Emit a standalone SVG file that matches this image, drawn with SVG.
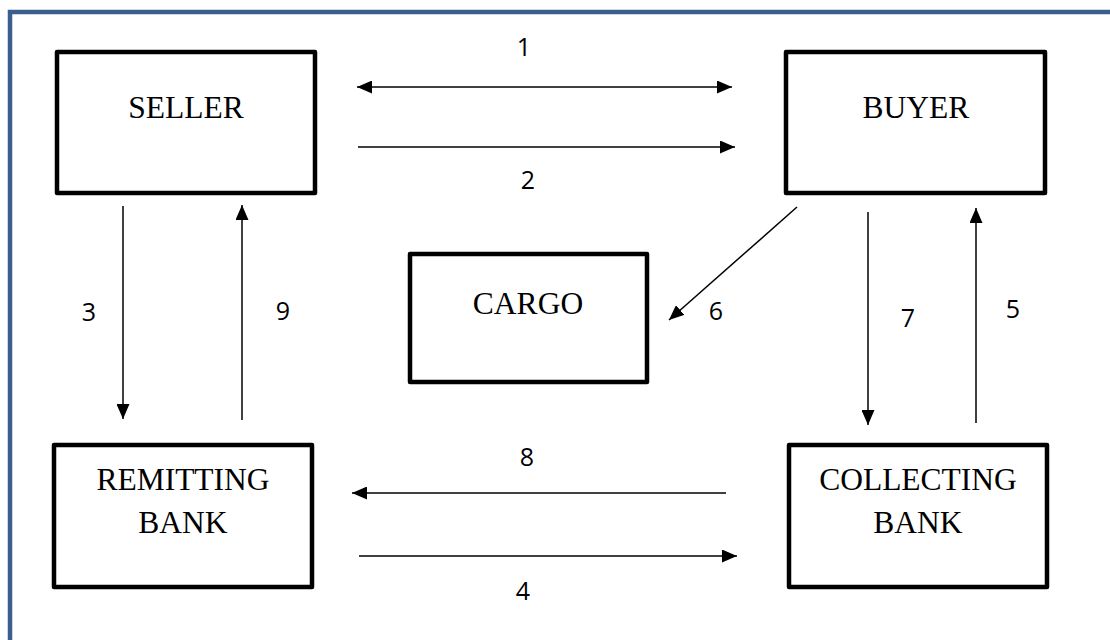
<svg xmlns="http://www.w3.org/2000/svg" width="1110" height="640" viewBox="0 0 1110 640">
<defs>
<marker id="ah" markerUnits="userSpaceOnUse" markerWidth="16" markerHeight="13" refX="15" refY="6.5" orient="auto-start-reverse">
<path d="M0,0 L15,6.5 L0,13 z" fill="#000"/>
</marker>
<style>
.box{fill:#fff;stroke:#000;stroke-width:4.5;stroke-linejoin:round}
.lbl{font-family:"Liberation Serif","Times New Roman",serif;font-size:31.5px;fill:#000;text-anchor:middle}
.num{font-family:"Open Sans","Liberation Sans",sans-serif;font-size:25px;fill:#000;text-anchor:middle}
.con{stroke:#000;stroke-width:1.5;fill:none;marker-end:url(#ah)}
</style>
</defs>
<rect width="1110" height="640" fill="#fff"/>
<path d="M10,640 V12 H1110" fill="none" stroke="#3a5f8f" stroke-width="4.5"/>
<g id="seller"><rect class="box" x="57" y="52" width="258" height="141"/><text class="lbl" x="186" y="118">SELLER</text></g>
<g id="buyer"><rect class="box" x="786" y="52" width="259" height="141"/><text class="lbl" x="916" y="118">BUYER</text></g>
<g id="cargo"><rect class="box" x="410" y="254" width="237" height="128"/><text class="lbl" x="528" y="314">CARGO</text></g>
<g id="remitting-bank"><rect class="box" x="54" y="445" width="258" height="142"/><text class="lbl" x="183" y="490">REMITTING</text><text class="lbl" x="183" y="533">BANK</text></g>
<g id="collecting-bank"><rect class="box" x="789" y="445" width="258" height="142"/><text class="lbl" x="918" y="490">COLLECTING</text><text class="lbl" x="918" y="533">BANK</text></g>
<g id="connectors">
<line class="con" x1="357" y1="87" x2="732" y2="87" style="marker-start:url(#ah)"/>
<line class="con" x1="358" y1="147" x2="735" y2="147"/>
<line class="con" x1="123" y1="206" x2="123" y2="419"/>
<line class="con" x1="242" y1="420" x2="242" y2="205"/>
<line class="con" x1="797" y1="207" x2="669" y2="320"/>
<line class="con" x1="868" y1="212" x2="868" y2="425"/>
<line class="con" x1="976" y1="423" x2="976" y2="208"/>
<line class="con" x1="726" y1="493" x2="352" y2="493"/>
<line class="con" x1="359" y1="556" x2="737" y2="556"/>
</g>
<g id="labels">
<text class="num" x="524" y="56">1</text>
<text class="num" x="528" y="189">2</text>
<text class="num" x="89" y="321">3</text>
<text class="num" x="283" y="320">9</text>
<text class="num" x="716" y="320">6</text>
<text class="num" x="908" y="327">7</text>
<text class="num" x="1013" y="318">5</text>
<text class="num" x="527" y="466">8</text>
<text class="num" x="523" y="600">4</text>
</g>
</svg>
